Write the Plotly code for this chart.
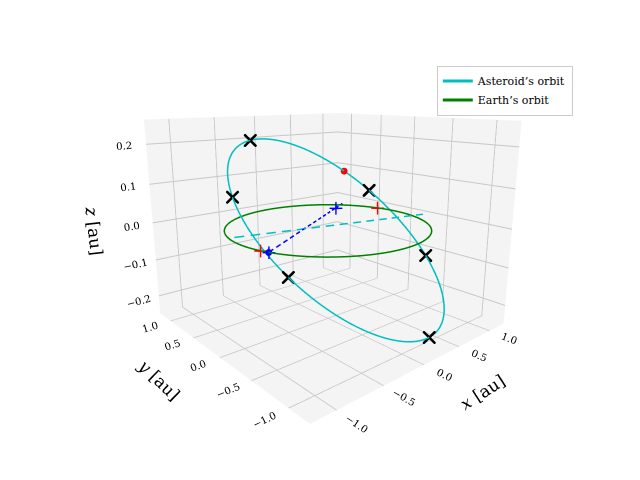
import numpy as np
import plotly.graph_objects as go

# orbital elements
a_ast, e_ast, inc_deg, node_deg, peri_deg = 1.08, 0.12, 11.5, 15.0, 150.0
earth_r = 1.0
n_samp = 300

def orbit_xyz(a, e, inc, node, peri, nu):
    r = a*(1-e**2)/(1+e*np.cos(nu))
    i, O, w = np.radians(inc), np.radians(node), np.radians(peri)
    u = nu + w
    x = r*(np.cos(O)*np.cos(u) - np.sin(O)*np.sin(u)*np.cos(i))
    y = r*(np.sin(O)*np.cos(u) + np.cos(O)*np.sin(u)*np.cos(i))
    z = r*np.sin(u)*np.sin(i)
    return x, y, z

def dashed(p0, p1, n=14):
    xs, ys, zs = [], [], []
    for k in range(n):
        t0, t1 = k/n, (k+0.6)/n
        for t in (t0, t1):
            xs.append(p0[0]+t*(p1[0]-p0[0])); ys.append(p0[1]+t*(p1[1]-p0[1])); zs.append(p0[2]+t*(p1[2]-p0[2]))
        xs.append(None); ys.append(None); zs.append(None)
    return xs, ys, zs

nu = np.linspace(0, 2*np.pi, n_samp)
ax_, ay_, az_ = orbit_xyz(a_ast, e_ast, inc_deg, node_deg, peri_deg, nu)
th = np.linspace(0, 2*np.pi, n_samp)
ex, ey, ez = earth_r*np.cos(th), earth_r*np.sin(th), 0*th

# argument of latitude of black crosses on the asteroid orbit
cross_u_deg = [90, 270, 150, 330, 10, 195]
cn = np.radians(cross_u_deg) - np.radians(peri_deg)
cx, cy, cz = orbit_xyz(a_ast, e_ast, inc_deg, node_deg, peri_deg, cn)
# nodes (red plus on Earth's circle)
node_ang = np.radians([node_deg, node_deg + 180])
nx, ny = earth_r*np.cos(node_ang), earth_r*np.sin(node_ang)
# asteroid (red) and Earth (blue)
ast_u = np.radians([25]) - np.radians(peri_deg)
rx, ry, rz = orbit_xyz(a_ast, e_ast, inc_deg, node_deg, peri_deg, ast_u)
earth_ang = np.radians([200])
bx, by = np.cos(earth_ang), np.sin(earth_ang)
bp_frac = [0.0, 0.85]

fig = go.Figure()
fig.add_trace(go.Scatter3d(x=ax_, y=ay_, z=az_, mode="lines", line=dict(color="#00bfbf", width=3), name="Asteroid’s orbit"))
fig.add_trace(go.Scatter3d(x=ex, y=ey, z=ez, mode="lines", line=dict(color="green", width=3), name="Earth’s orbit"))
dx, dy, dz = dashed((cx[2], cy[2], 0), (cx[3], cy[3], 0))
fig.add_trace(go.Scatter3d(x=dx, y=dy, z=dz, mode="lines", line=dict(color="#00bfbf", width=3), showlegend=False))
dx, dy, dz = dashed((bx[0], by[0], 0), (rx[0], ry[0], 0))
fig.add_trace(go.Scatter3d(x=dx, y=dy, z=dz, mode="lines", line=dict(color="blue", width=3), showlegend=False))
fig.add_trace(go.Scatter3d(x=cx, y=cy, z=cz, mode="markers", marker=dict(symbol="x", color="black", size=3), showlegend=False))
fig.add_trace(go.Scatter3d(x=nx, y=ny, z=[0, 0], mode="markers", marker=dict(symbol="cross", color="red", size=7), showlegend=False))
fig.add_trace(go.Scatter3d(x=[bx[0] + f*(rx[0]-bx[0]) for f in bp_frac], y=[by[0] + f*(ry[0]-by[0]) for f in bp_frac], z=[0, 0], mode="markers", marker=dict(symbol="cross", color="blue", size=7), showlegend=False))
fig.add_trace(go.Scatter3d(x=rx, y=ry, z=rz, mode="markers", marker=dict(color="red", size=4), showlegend=False))
fig.add_trace(go.Scatter3d(x=bx, y=by, z=[0], mode="markers", marker=dict(color="blue", size=4), showlegend=False))

axstyle = dict(backgroundcolor="#f4f4f4", showbackground=True, gridcolor="#c8c8c8", zeroline=False,
               tickfont=dict(family="DejaVu Serif", size=11), showspikes=False)
fig.update_layout(
    width=640, height=480, margin=dict(l=0, r=0, t=0, b=0),
    paper_bgcolor="white", font=dict(family="DejaVu Serif", color="black"),
    legend=dict(x=0.67, y=0.88, bgcolor="white", bordercolor="#ccc", borderwidth=1, font=dict(size=11)),
    scene=dict(
        domain=dict(x=[0, 1], y=[0.1, 1]),
        xaxis=dict(title=dict(text="<i>x</i> [au]", font=dict(size=17)), range=[-1.25, 1.25], tickvals=[-1, -0.5, 0, 0.5, 1], ticktext=["−1.0", "−0.5", "0.0", "0.5", "1.0"], **axstyle),
        yaxis=dict(title=dict(text="<i>y</i> [au]", font=dict(size=17)), range=[-1.25, 1.25], tickvals=[-1, -0.5, 0, 0.5, 1], ticktext=["−1.0", "−0.5", "0.0", "0.5", "1.0"], **axstyle),
        zaxis=dict(title=dict(text="<i>z</i> [au]", font=dict(size=17)), range=[-0.25, 0.26], tickvals=[-0.2, -0.1, 0, 0.1, 0.2], ticktext=["−0.2", "−0.1", "0.0", "0.1", "0.2"], **axstyle),
        aspectmode="manual", aspectratio=dict(x=1, y=1, z=0.8),
        camera=dict(eye=dict(x=-1.3, y=-1.5, z=0.5)),
    ),
)
fig.write_html("out.html")
